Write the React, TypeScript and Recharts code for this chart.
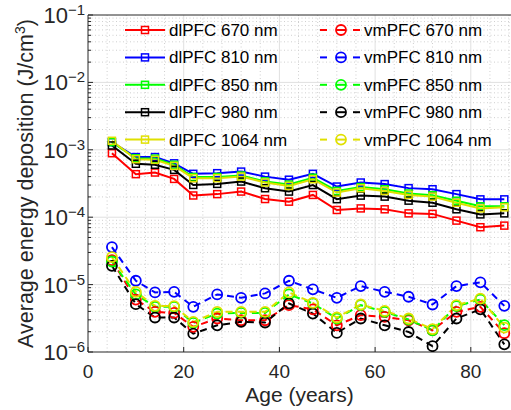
import { Legend, Line, LineChart, ReferenceLine, XAxis, YAxis } from "recharts";

const FONT = "'Liberation Sans', Arial, Helvetica, sans-serif";

const ages = [5, 10, 14, 18, 22, 27, 32, 37, 42, 47, 52, 57, 62, 67, 72, 77, 82, 87];

const dl670 = [8.9e-4, 4.35e-4, 4.6e-4, 3.7e-4, 2.1e-4, 2.2e-4, 2.4e-4, 1.86e-4, 1.7e-4, 2.14e-4, 1.28e-4, 1.35e-4, 1.31e-4, 1.14e-4, 1.12e-4, 8.9e-5, 7.1e-5, 7.5e-5];
const dl810 = [1.3e-3, 7.8e-4, 7.8e-4, 6.3e-4, 4.4e-4, 4.5e-4, 4.75e-4, 4.0e-4, 3.6e-4, 4.4e-4, 2.85e-4, 3.27e-4, 3.1e-4, 2.7e-4, 2.6e-4, 2.2e-4, 1.84e-4, 1.84e-4];
const dl850 = [1.3e-3, 7.5e-4, 7.4e-4, 6.0e-4, 3.95e-4, 3.95e-4, 4.15e-4, 3.4e-4, 3.05e-4, 3.85e-4, 2.45e-4, 2.8e-4, 2.6e-4, 2.25e-4, 2.12e-4, 1.75e-4, 1.45e-4, 1.45e-4];
const dl980 = [1.16e-3, 6.2e-4, 6.0e-4, 5.04e-4, 3.01e-4, 3.12e-4, 3.38e-4, 2.69e-4, 2.4e-4, 3.0e-4, 1.85e-4, 2.09e-4, 2.02e-4, 1.76e-4, 1.64e-4, 1.31e-4, 1.1e-4, 1.14e-4];
const dl1064 = [1.36e-3, 7.26e-4, 7.1e-4, 5.78e-4, 3.79e-4, 3.79e-4, 4.0e-4, 3.27e-4, 2.91e-4, 3.66e-4, 2.32e-4, 2.69e-4, 2.45e-4, 2.14e-4, 2.02e-4, 1.64e-4, 1.35e-4, 1.4e-4];

const vm670 = [2.3e-5, 6.0e-6, 3.94e-6, 3.8e-6, 2.36e-6, 3.14e-6, 2.96e-6, 2.96e-6, 4.95e-6, 4.3e-6, 2.49e-6, 3.52e-6, 3.33e-6, 2.96e-6, 2.1e-6, 3.94e-6, 4.68e-6, 1.9e-6];
const vm810 = [3.6e-5, 1.14e-5, 7.65e-6, 7.8e-6, 4.68e-6, 7.15e-6, 6.37e-6, 7.4e-6, 1.14e-5, 8.5e-6, 6.37e-6, 9.5e-6, 7.8e-6, 6.6e-6, 5.07e-6, 9.5e-6, 1.08e-5, 4.84e-6];
const vm850 = [2.2e-5, 7.15e-6, 4.68e-6, 4.68e-6, 2.7e-6, 3.72e-6, 3.8e-6, 3.8e-6, 7.15e-6, 5.25e-6, 3.14e-6, 4.95e-6, 3.94e-6, 3.03e-6, 2.1e-6, 4.79e-6, 6.0e-6, 2.5e-6];
const vm980 = [1.9e-5, 5.13e-6, 3.25e-6, 3.25e-6, 1.87e-6, 2.49e-6, 2.8e-6, 2.74e-6, 5.25e-6, 3.72e-6, 1.92e-6, 3.14e-6, 2.49e-6, 1.98e-6, 1.22e-6, 3.14e-6, 4.3e-6, 1.3e-6];
const vm1064 = [2.55e-5, 7.8e-6, 4.84e-6, 4.79e-6, 2.8e-6, 3.94e-6, 3.94e-6, 3.94e-6, 7.65e-6, 5.37e-6, 3.25e-6, 5.07e-6, 4.07e-6, 3.14e-6, 2.18e-6, 4.95e-6, 6.2e-6, 2.3e-6];

const wavelengths = ["670", "810", "850", "980", "1064"];
const colors = ["#ff0000", "#0000ff", "#00ff00", "#000000", "#e0e000"];
const dlValues = [dl670, dl810, dl850, dl980, dl1064];
const vmValues = [vm670, vm810, vm850, vm980, vm1064];

const xTicks = [0, 20, 40, 60, 80];
const xMinor = [4, 8, 12, 16, 24, 28, 32, 36, 44, 48, 52, 56, 64, 68, 72, 76, 84, 88];
const decades = [-6, -5, -4, -3, -2, -1];

type Series = { key: string; name: string; color: string; dashed: boolean };

const series: Series[] = [
  ...wavelengths.map((w, i) => ({ key: `dl${w}`, name: `dlPFC ${w} nm`, color: colors[i], dashed: false })),
  ...wavelengths.map((w, i) => ({ key: `vm${w}`, name: `vmPFC ${w} nm`, color: colors[i], dashed: true })),
];

const data = ages.map((age, i) => {
  const row: Record<string, number> = { age };
  wavelengths.forEach((w, j) => {
    row[`dl${w}`] = dlValues[j][i];
    row[`vm${w}`] = vmValues[j][i];
  });
  return row;
});

const yMajor = decades.map((d) => Math.pow(10, d));
const yMinor: number[] = [];
for (const d of decades.slice(0, -1)) {
  for (let m = 2; m <= 9; m++) yMinor.push(m * Math.pow(10, d));
}
const yTicks = [...yMajor, ...yMinor].sort((a, b) => a - b);

function isDecade(v: number) {
  const l = Math.log10(v);
  return Math.abs(l - Math.round(l)) < 1e-6;
}

function YTick(props: any) {
  const { x, y, payload } = props;
  const v = Number(payload.value);
  if (!isDecade(v)) {
    return <line x1={x} x2={x + 3} y1={y} y2={y} stroke="#262626" strokeWidth={1} />;
  }
  const exp = Math.round(Math.log10(v));
  return (
    <g>
      <line x1={x} x2={x + 5} y1={y} y2={y} stroke="#262626" strokeWidth={1} />
      <text x={x - 3} y={y + 8} textAnchor="end" fontFamily={FONT} fill="#262626">
        <tspan fontSize={22}>10</tspan>
        <tspan fontSize={15} dy={-8}>{`\u2212${Math.abs(exp)}`}</tspan>
      </text>
    </g>
  );
}

function XTick(props: any) {
  const { x, y, payload } = props;
  return (
    <g>
      <line x1={x} x2={x} y1={y} y2={y - 5} stroke="#262626" strokeWidth={1} />
      <text x={x} y={y + 26} textAnchor="middle" fontFamily={FONT} fontSize={19} fill="#262626">
        {payload.value}
      </text>
    </g>
  );
}

function squareDot(color: string) {
  return (props: any) => {
    const { cx, cy, index } = props;
    if (cx == null || cy == null) return <g key={`s${index}`} />;
    return (
      <rect key={`s${index}`} x={cx - 3.5} y={cy - 3.5} width={7} height={7} fill="none" stroke={color} strokeWidth={1.5} />
    );
  };
}

function circleDot(color: string) {
  return (props: any) => {
    const { cx, cy, index } = props;
    if (cx == null || cy == null) return <g key={`c${index}`} />;
    return <circle key={`c${index}`} cx={cx} cy={cy} r={5} fill="none" stroke={color} strokeWidth={1.8} />;
  };
}

function LegendBox() {
  const rowY = (i: number) => 30 + i * 27.4;
  return (
    <svg width={511} height={160} style={{ display: "block" }}>
      {series.map((s, idx) => {
        const i = idx % 5;
        const y = rowY(i);
        if (!s.dashed) {
          return (
            <g key={s.key}>
              <line x1={125} x2={165} y1={y} y2={y} stroke={s.color} strokeWidth={2} />
              <rect x={141.5} y={y - 3.5} width={7} height={7} fill="none" stroke={s.color} strokeWidth={1.5} />
              <text x={169} y={y + 6} fontFamily={FONT} fontSize={17} fill="#000">
                {s.name}
              </text>
            </g>
          );
        }
        return (
          <g key={s.key}>
            <line x1={320} x2={327} y1={y} y2={y} stroke={s.color} strokeWidth={2} />
            <line x1={336} x2={346} y1={y} y2={y} stroke={s.color} strokeWidth={2} />
            <line x1={353} x2={360} y1={y} y2={y} stroke={s.color} strokeWidth={2} />
            <circle cx={341} cy={y} r={5} fill="none" stroke={s.color} strokeWidth={1.8} />
            <text x={364} y={y + 6} fontFamily={FONT} fontSize={17} fill="#000">
              {s.name}
            </text>
          </g>
        );
      })}
    </svg>
  );
}

export default function App() {
  const drawOrder = [0, 5, 1, 6, 2, 7, 3, 8, 4, 9].map((i) => series[i]);
  return (
    <div style={{ position: "absolute", left: 0, top: 0, width: 511, height: 410, background: "#fff", overflow: "hidden" }}>
      <LineChart width={511} height={410} data={data} margin={{ top: 15, right: 0, bottom: 28, left: 0 }}>
        {xMinor.map((v) => (
          <ReferenceLine key={`xm${v}`} x={v} stroke="#cfcfcf" strokeDasharray="1 2.5" strokeWidth={1} zIndex={-100} />
        ))}
        {yMinor.map((v) => (
          <ReferenceLine key={`ym${v}`} y={v} stroke="#cfcfcf" strokeDasharray="1 2.5" strokeWidth={1} zIndex={-100} />
        ))}
        {xTicks.slice(1).map((v) => (
          <ReferenceLine key={`xM${v}`} x={v} stroke="#e0e0e0" strokeWidth={1} zIndex={-100} />
        ))}
        {yMajor.slice(1, -1).map((v) => (
          <ReferenceLine key={`yM${v}`} y={v} stroke="#e0e0e0" strokeWidth={1} zIndex={-100} />
        ))}
        <ReferenceLine y={0.1} stroke="#262626" strokeWidth={1} />
        <XAxis
          dataKey="age"
          type="number"
          domain={[0, 88.4]}
          allowDataOverflow
          ticks={xTicks}
          interval={0}
          height={30}
          tickLine={false}
          tickSize={0}
          tickMargin={0}
          tick={<XTick />}
          axisLine={{ stroke: "#262626", strokeWidth: 1 }}
          label={{
            content: (p: any) => {
              const vb = p.viewBox || { x: 88, y: 352, width: 423 };
              return (
                <text x={vb.x + vb.width / 2} y={vb.y + 50} textAnchor="middle" fontFamily={FONT} fontSize={21} fill="#262626">
                  Age (years)
                </text>
              );
            },
          }}
        />
        <YAxis
          type="number"
          scale="log"
          domain={[1e-6, 1e-1]}
          allowDataOverflow
          ticks={yTicks}
          interval={0}
          width={88}
          tickLine={false}
          tickSize={0}
          tickMargin={0}
          tick={<YTick />}
          axisLine={{ stroke: "#262626", strokeWidth: 1 }}
          label={{
            content: () => (
              <text x={33} y={183.5} transform="rotate(-90, 33, 183.5)" textAnchor="middle" fontFamily={FONT} fontSize={21.5} fill="#262626">
                Average energy deposition (J/cm
                <tspan fontSize={14} dy={-8}>3</tspan>
                <tspan dy={8}>)</tspan>
              </text>
            ),
          }}
        />
        <Legend
          layout="vertical"
          align="center"
          verticalAlign="middle"
          wrapperStyle={{ position: "absolute", left: 0, top: 0, width: 511, height: 160 }}
          content={() => <LegendBox />}
        />
        {drawOrder.map((s) => (
          <Line
            key={s.key}
            dataKey={s.key}
            name={s.name}
            type="linear"
            stroke={s.color}
            strokeWidth={2}
            strokeDasharray={s.dashed ? "7 5" : undefined}
            dot={s.dashed ? circleDot(s.color) : squareDot(s.color)}
            activeDot={false}
            isAnimationActive={false}
          />
        ))}
      </LineChart>
    </div>
  );
}
